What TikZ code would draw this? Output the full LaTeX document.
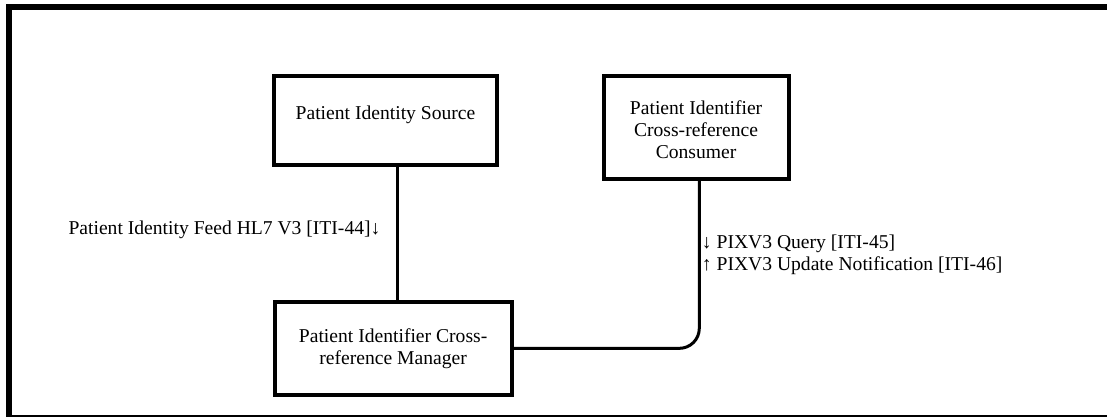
\documentclass[tikz,border=0pt]{standalone}
\usepackage{fontspec}
\setmainfont{Liberation Serif}
\usetikzlibrary{positioning}

\begin{document}
\begin{tikzpicture}[x=0.75pt,y=-0.75pt]
    \tikzset{
        every node/.style={font=\fontsize{14.7}{16.5}\selectfont},
        actor/.style={draw, line width=3pt, align=center, inner sep=0pt},
        link/.style={line width=2.25pt}
    }
    \useasboundingbox (0,0) rectangle (1107,417);

    % draw outer frame
    \begin{scope}
        \clip (0,0) rectangle (1107,417);
        \draw[line width=4.5pt] (8.5,7.5) rectangle (1115,417.5);
    \end{scope}

    % draw actors
    \node[actor, minimum width=167.25pt, minimum height=66.4pt] (src) at (385.5,120.75)
        {\raisebox{4.5pt}[\height][\depth]{Patient Identity Source}};
    \node[actor, minimum width=138.9pt, minimum height=77pt] (con) at (696.1,127.35)
        {\raisebox{-3.5pt}[\height][\depth]{\begin{tabular}{@{}c@{}}Patient Identifier\\Cross-reference\\Consumer\end{tabular}}};
    \node[actor, minimum width=177.9pt, minimum height=69.5pt] (mgr) at (393.1,348.35)
        {Patient Identifier Cross-\\reference Manager};

    % draw transactions
    \draw[link] ([xshift=9.15pt]src.south) -- ([xshift=9.15pt]src.south |- mgr.north)
        node[pos=0.47, left=8.5pt] (feed) {Patient Identity Feed HL7 V3 [ITI-44]↓};
    \draw[link, rounded corners=15pt] (mgr.east) -| ([xshift=2.4pt]con.south)
        node[pos=0.78, right=-2.5pt, align=left] (pix) {↓ PIXV3 Query [ITI-45]\\↑ PIXV3 Update Notification [ITI-46]};

\end{tikzpicture}
\end{document}
